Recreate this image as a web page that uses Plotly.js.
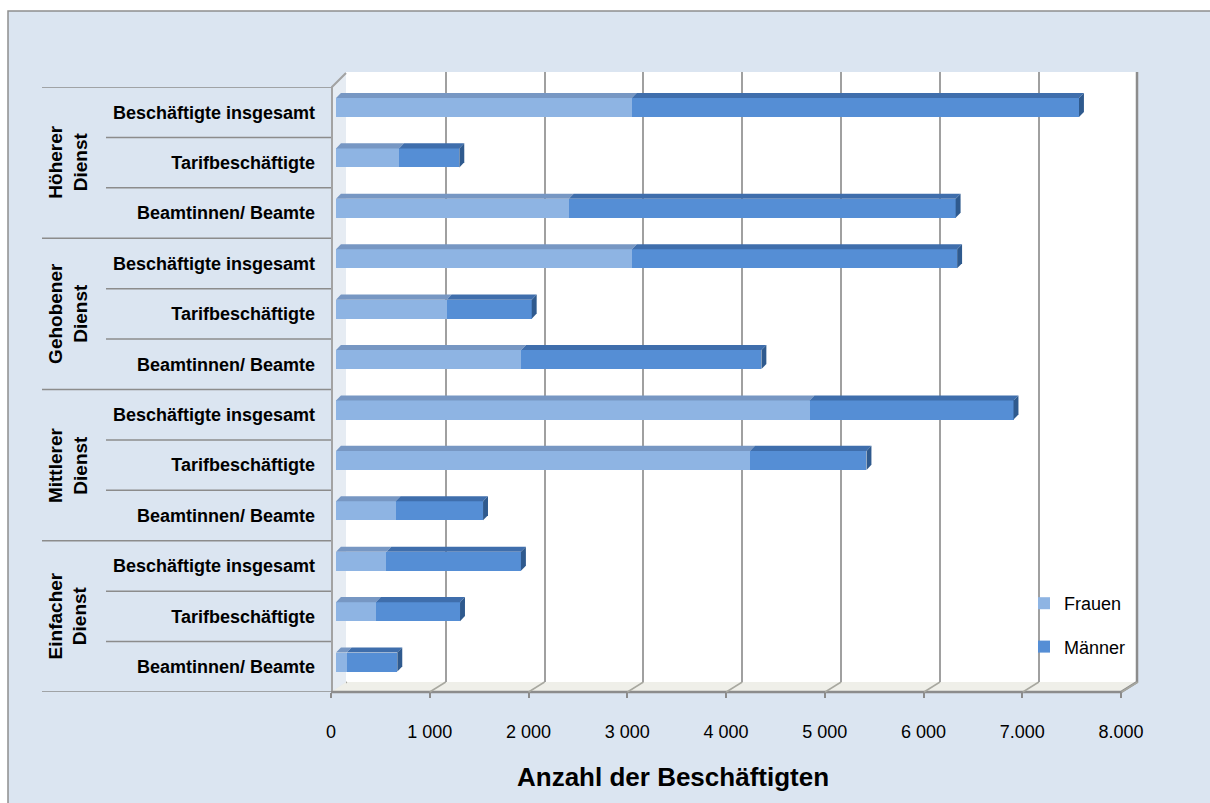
<!DOCTYPE html>
<html>
<head>
<meta charset="utf-8">
<script src="https://cdn.plot.ly/plotly-3.0.1.min.js"></script>
<style>
  html, body { margin: 0; padding: 0; background: #DBE5F1; overflow: hidden; }
  #chart { width: 1210px; height: 803px; }
</style>
</head>
<body>
<div id="chart"></div>
<script>
// Laufbahngruppen (group labels on the left)
const groups = ['Höherer<br>Dienst', 'Gehobener<br>Dienst', 'Mittlerer<br>Dienst', 'Einfacher<br>Dienst'];
// Beschäftigungsstatus within each group
const statusLabels = ['Beschäftigte insgesamt', 'Tarifbeschäftigte', 'Beamtinnen/ Beamte'];
// Counts per row, top to bottom
const frauen  = [2995, 638, 2357, 2996, 1121, 1875, 4795, 4192, 603, 511, 403, 108];
const maenner = [4529, 611, 3918, 3294, 861, 2433, 2066, 1180, 886, 1362, 853, 513];
// Value axis
const xTickVals = [0, 1000, 2000, 3000, 4000, 5000, 6000, 7000, 8000];
const xTickText = ['0', '1 000', '2 000', '3 000', '4 000', '5 000', '6 000', '7.000', '8.000'];
const seriesNames = ['Frauen', 'Männer'];

const W = 1210, H = 803;
const px = x => x / W;
const py = y => 1 - y / H;

const rowLabels = groups.flatMap(() => statusLabels);
const rows = rowLabels.map((_, i) => i);

const colFrauen = '#8EB4E3', colMaenner = '#558ED5';
const topFrauen = '#7797C3', topMaenner = '#3F6EAC', sideCol = '#2F5A8E';
const FONT = 'Liberation Sans, Arial, sans-serif';

const barWidth = 0.377, barOffset = -0.282;
const depthX = 50, depthY = 0.1;   // 3D depth in value units / row units

const traces = [
  {
    type: 'bar', orientation: 'h', name: seriesNames[0],
    x: frauen, y: rows, xaxis: 'x2', yaxis: 'y2',
    width: barWidth, offset: barOffset,
    marker: { color: colFrauen, line: { width: 0 } },
    legendgroup: 'f', hoverinfo: 'x+name'
  },
  {
    type: 'bar', orientation: 'h', name: seriesNames[1],
    x: maenner, y: rows, xaxis: 'x2', yaxis: 'y2',
    width: barWidth, offset: barOffset,
    marker: { color: colMaenner, line: { width: 0 } },
    legendgroup: 'm', hoverinfo: 'x+name'
  },
  // carries the value axis along the floor edge
  {
    type: 'scatter', mode: 'markers', x: [], y: [], xaxis: 'x3', yaxis: 'y2',
    showlegend: false, hoverinfo: 'skip'
  }
];

const shapes = [];

// white strip above the framed area, and the frame's top and left edges
shapes.push({ type: 'rect', xref: 'paper', yref: 'paper', layer: 'below',
  x0: -0.1, x1: 1.1, y0: py(11), y1: 1.1,
  fillcolor: '#FFFFFF', line: { width: 0 } });
shapes.push({ type: 'rect', xref: 'paper', yref: 'paper', layer: 'below',
  x0: -0.1, x1: px(8), y0: -0.1, y1: 1.1,
  fillcolor: '#FFFFFF', line: { width: 0 } });
shapes.push({ type: 'path', xref: 'paper', yref: 'paper', layer: 'below',
  path: `M${px(8)},-0.1 L${px(8)},${py(11)} L1.1,${py(11)}`,
  line: { color: '#8F8F8F', width: 1.5 } });
// back wall
shapes.push({ type: 'rect', xref: 'x domain', yref: 'y domain', layer: 'below',
  x0: 0, x1: 1, y0: 0, y1: 1, fillcolor: '#FFFFFF', line: { width: 0 } });
// left wall
shapes.push({ type: 'path', xref: 'paper', yref: 'paper', layer: 'below',
  path: `M${px(331)},${py(87)} L${px(346)},${py(73)} L${px(346)},${py(682)} L${px(331)},${py(692)} Z`,
  fillcolor: '#E6ECF3', line: { width: 0 } });
shapes.push({ type: 'path', xref: 'paper', yref: 'paper', layer: 'below',
  path: `M${px(332)},${py(692)} L${px(332)},${py(87)} L${px(346)},${py(73)}`,
  line: { color: '#A3A3A3', width: 2 } });
// floor
shapes.push({ type: 'path', xref: 'paper', yref: 'paper', layer: 'below',
  path: `M${px(331)},${py(692)} L${px(1121)},${py(692)} L${px(1137)},${py(682)} L${px(346)},${py(682)} Z`,
  fillcolor: '#EFEFE9', line: { width: 0 } });
shapes.push({ type: 'path', xref: 'paper', yref: 'paper', layer: 'below',
  path: `M${px(331)},${py(692)} L${px(1121)},${py(692)} L${px(1137)},${py(682)} L${px(1137)},${py(72)}`,
  line: { color: '#8C8C8C', width: 2.5 } });
// grid feet running across the floor
xTickVals.forEach(v => {
  shapes.push({ type: 'line', xref: 'x', yref: 'paper', layer: 'below',
    x0: v, x1: v - 162, y0: py(682), y1: py(692),
    line: { color: '#A8A8A0', width: 1.5 } });
});

// row separators and group separators in the label column
for (let b = 0; b <= rows.length; b++) {
  const isGroup = b % statusLabels.length === 0;
  shapes.push({ type: 'line', xref: 'paper', yref: 'y2',
    x0: px(isGroup ? 42 : 106), x1: px(331), y0: b - 0.5, y1: b - 0.5,
    line: { color: '#8C8C8C', width: 1.5 } });
}

// 3D top and end faces of each stacked bar
rows.forEach(i => {
  const f = frauen[i], t = frauen[i] + maenner[i];
  const yTop = i + barOffset, yBot = i + barOffset + barWidth;
  const topFace = (a, b) =>
    `M${a},${yTop} L${b},${yTop} L${b + depthX},${yTop - depthY} L${a + depthX},${yTop - depthY} Z`;
  shapes.push({ type: 'path', xref: 'x2', yref: 'y2', path: topFace(0, f),
    fillcolor: topFrauen, line: { width: 0 } });
  shapes.push({ type: 'path', xref: 'x2', yref: 'y2', path: topFace(f, t),
    fillcolor: topMaenner, line: { width: 0 } });
  shapes.push({ type: 'path', xref: 'x2', yref: 'y2',
    path: `M${t},${yTop} L${t + depthX},${yTop - depthY} L${t + depthX},${yBot - depthY} L${t},${yBot} Z`,
    fillcolor: sideCol, line: { width: 0 } });
});

const annotations = groups.map((g, k) => ({
  text: g, xref: 'paper', yref: 'y2',
  x: px(68), y: k * statusLabels.length + 1,
  xanchor: 'center', yanchor: 'middle', textangle: -90, align: 'center',
  showarrow: false,
  font: { family: FONT, size: 19, color: '#000000', weight: 'bold' }
}));
annotations.push({
  text: 'Anzahl der Beschäftigten', xref: 'paper', yref: 'paper',
  x: px(673), y: py(777), xanchor: 'center', yanchor: 'middle', showarrow: false,
  font: { family: FONT, size: 26, color: '#000000', weight: 'bold' }
});

const layout = {
  width: W, height: H,
  margin: { l: 0, r: 0, t: 0, b: 0, pad: 0 },
  paper_bgcolor: '#DBE5F1',
  plot_bgcolor: 'rgba(0,0,0,0)',
  barmode: 'stack',
  bargap: 0.6,
  showlegend: true,
  legend: {
    x: px(1024), y: py(585), xanchor: 'left', yanchor: 'top',
    bgcolor: 'rgba(0,0,0,0)', borderwidth: 0,
    traceorder: 'grouped', tracegroupgap: 17,
    font: { family: FONT, size: 18, color: '#000000' }
  },
  // back wall grid
  xaxis: {
    domain: [px(346), px(1138)], range: [-9, 8003], anchor: 'y',
    tickvals: xTickVals, showticklabels: false, ticks: '',
    showgrid: true, gridcolor: '#A0A0A0', gridwidth: 2,
    zeroline: false, showline: false, fixedrange: true
  },
  yaxis: {
    domain: [py(682), py(72)], range: [0, 1], anchor: 'x',
    showgrid: false, zeroline: false, showticklabels: false, ticks: '', fixedrange: true
  },
  // bars
  xaxis2: {
    domain: [px(336), px(1126)], range: [0, 8000], anchor: 'y2',
    showgrid: false, zeroline: false, showline: false, showticklabels: false, ticks: '',
    fixedrange: true
  },
  yaxis2: {
    domain: [py(692), py(87)], range: [rows.length - 0.5, -0.5], anchor: 'x2',
    tickvals: rows, ticktext: rowLabels, ticks: '', ticklabelstandoff: 20,
    tickfont: { family: FONT, size: 18, color: '#000000', weight: 'bold' },
    showgrid: false, zeroline: false, showline: false, fixedrange: true
  },
  // value labels along the floor edge
  xaxis3: {
    domain: [px(331), px(1121)], range: [0, 8000], anchor: 'y2',
    tickvals: xTickVals, ticktext: xTickText,
    ticks: 'outside', ticklen: 5, tickwidth: 1.5, tickcolor: '#8C8C8C',
    ticklabelstandoff: 18,
    tickfont: { family: FONT, size: 18, color: '#000000' },
    showgrid: false, zeroline: false, showline: false, fixedrange: true
  },
  shapes: shapes,
  annotations: annotations
};

Plotly.newPlot('chart', traces, layout, { displayModeBar: false, responsive: false });
</script>
</body>
</html>
